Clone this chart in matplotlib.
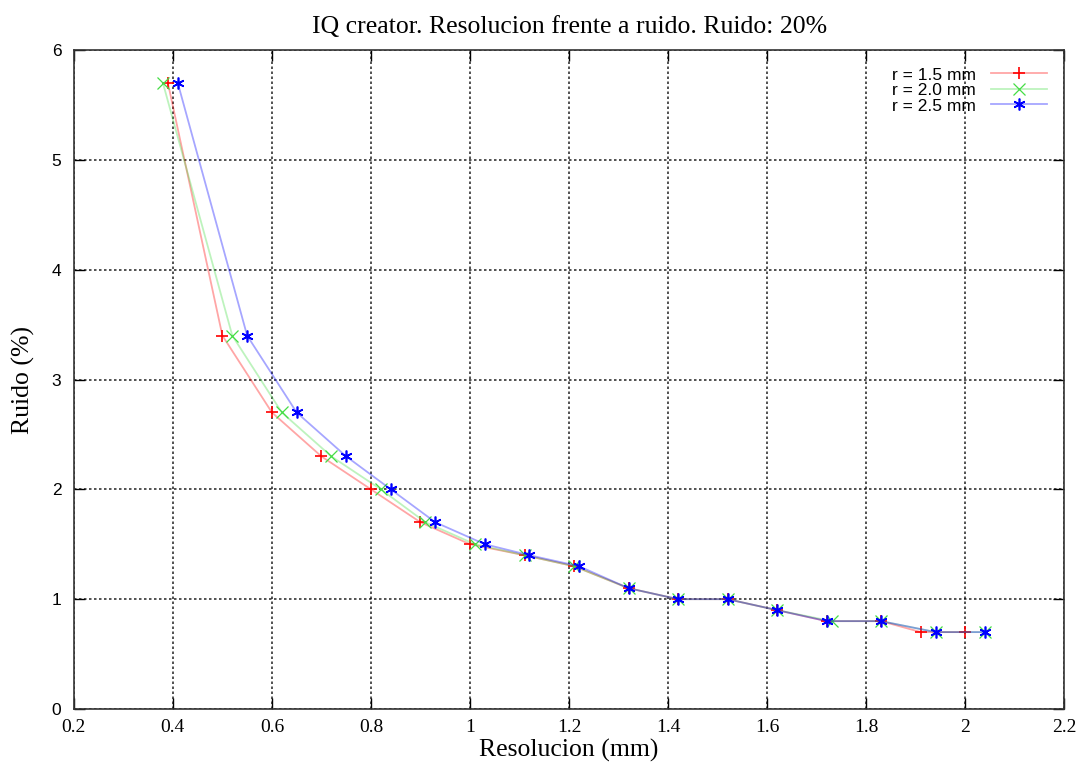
import matplotlib
matplotlib.use("Agg")
import matplotlib.pyplot as plt
from matplotlib.lines import Line2D

ruido = [5.7, 3.4, 2.7, 2.3, 2.0, 1.7, 1.5, 1.4, 1.3, 1.1, 1.0, 1.0, 0.9, 0.8, 0.8, 0.7, 0.7]
res_15 = [0.39, 0.50, 0.60, 0.70, 0.80, 0.90, 1.00, 1.11, 1.21, 1.32, 1.42, 1.52, 1.62, 1.72, 1.83, 1.91, 2.00]
res_20 = [0.38, 0.52, 0.62, 0.72, 0.82, 0.91, 1.01, 1.11, 1.21, 1.32, 1.42, 1.52, 1.62, 1.73, 1.83, 1.94, 2.04]
res_25 = [0.41, 0.55, 0.65, 0.75, 0.84, 0.93, 1.03, 1.12, 1.22, 1.32, 1.42, 1.52, 1.62, 1.72, 1.83, 1.94, 2.04]
labels = ["r = 1.5 mm", "r = 2.0 mm", "r = 2.5 mm"]
xticks = [0.2, 0.4, 0.6, 0.8, 1.0, 1.2, 1.4, 1.6, 1.8, 2.0, 2.2]
xticklabels = ["0.2", "0.4", "0.6", "0.8", "1", "1.2", "1.4", "1.6", "1.8", "2", "2.2"]
yticks = [0, 1, 2, 3, 4, 5, 6]

fig = plt.figure(figsize=(10.85, 7.64), dpi=100)
ax = fig.add_axes([0.068, 0.072, 0.913, 0.8625])

series = [(res_15, "#ff0000", "+", 1.2), (res_20, "#44dd44", "x", 0.9), (res_25, "#0000ff", (6, 2, 0), 1.2)]
leg_handles = []
z = 2
for (xs, c, m, mw), lab in zip(series, labels):
    ax.plot(xs, ruido, color=c, alpha=0.35, lw=1.3, zorder=z)
    ax.plot(xs, ruido, ls="none", marker=m, color=c, ms=8.5, mew=mw, zorder=z + 0.5)
    z += 1
    leg_handles.append((Line2D([0], [0], color=c, lw=1.3, alpha=0.35),
                        Line2D([0], [0], ls="none", marker=m, color=c, ms=8.5, mew=mw)))

ax.legend(leg_handles, labels, loc="upper right", frameon=False, markerfirst=False,
          handlelength=3.2, handletextpad=0.9, borderaxespad=0.5, borderpad=0.5,
          labelspacing=0.02, prop={"family": "Liberation Sans", "size": 12.5})

ax.set_xlim(0.2, 2.2)
ax.set_ylim(0, 6)
ax.set_xticks(xticks)
ax.set_xticklabels(xticklabels, family="Liberation Serif", fontsize=14)
ax.set_yticks(yticks)
ax.set_yticklabels([str(v) for v in yticks], family="Liberation Sans", fontsize=12.5)
ax.tick_params(direction="in", length=8, width=1, top=True, right=True, pad=7)
ax.tick_params(axis="y", pad=9)
ax.grid(True, color="black", ls=(0, (1.5, 1.5)), lw=1.2, alpha=0.8)
for s in ax.spines.values():
    s.set_linewidth(1.2)
    s.set_color("#333333")

ax.set_title("IQ creator. Resolucion frente a ruido. Ruido: 20%", family="Liberation Serif",
             fontsize=18.5, pad=12)
ax.set_xlabel("Resolucion (mm)", family="Liberation Serif", fontsize=18.5, labelpad=2)
ax.set_ylabel("Ruido (%)", family="Liberation Serif", fontsize=18.5, labelpad=12)

fig.savefig("out.png", dpi=100)
